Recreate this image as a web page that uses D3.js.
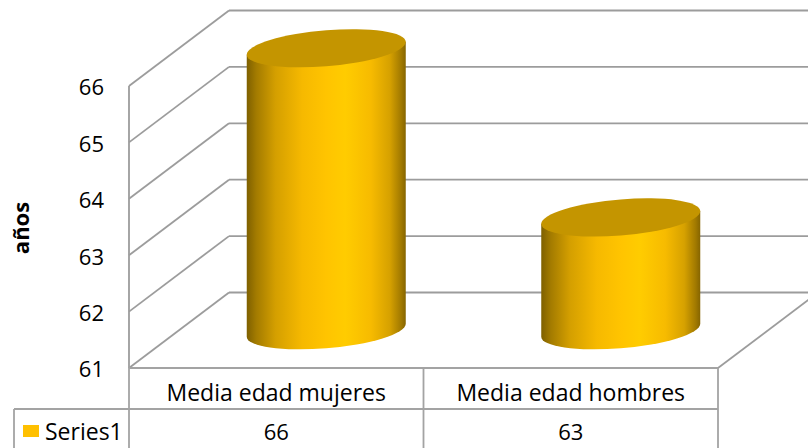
<!DOCTYPE html>
<html>
<head>
<meta charset="utf-8">
<script src="https://cdn.jsdelivr.net/npm/d3@7"></script>
<style>
  html, body { margin: 0; padding: 0; background: #fff; }
  svg { display: block; font-family: "Open Sans", "Noto Sans", sans-serif; }
</style>
</head>
<body>
<svg id="chart" width="808" height="448"></svg>
<script>
// Chart data
const categories = ["Media edad mujeres", "Media edad hombres"];
const values = [66, 63];
const seriesName = "Series1";
const yTicks = [61, 62, 63, 64, 65, 66];
const yTitle = "años";

const W = 808, H = 448;
const svg = d3.select("#chart");

// Front plane geometry and 3D depth offset
const frontLeft = 129, frontRight = 718;
const depthX = 100, depthY = -75.5;
const y = d3.scaleLinear().domain([61, 66]).range([368, 86]);
const x = d3.scaleBand().domain(categories).range([frontLeft, frontRight]);

const gridColor = "#9c9c9c";
const lineColor = "#a3a3a3";

// Back wall gridlines
const walls = svg.append("g").attr("fill", "none").attr("stroke", gridColor).attr("stroke-width", 1.8);
walls.selectAll("line.back").data(yTicks).join("line")
  .attr("class", "back")
  .attr("x1", frontLeft + depthX).attr("x2", frontRight + depthX + 20)
  .attr("y1", d => y(d) + depthY).attr("y2", d => y(d) + depthY);

// Side wall diagonals
walls.selectAll("line.side").data(yTicks).join("line")
  .attr("class", "side")
  .attr("x1", frontLeft).attr("y1", d => y(d))
  .attr("x2", frontLeft + depthX).attr("y2", d => y(d) + depthY);

// Side wall front edge
walls.append("line")
  .attr("x1", frontLeft).attr("x2", frontLeft)
  .attr("y1", y(d3.max(yTicks))).attr("y2", y(61));

// Floor right edge
walls.append("line")
  .attr("x1", frontRight).attr("y1", y(61))
  .attr("x2", frontRight + depthX).attr("y2", y(61) + depthY);

// Cylinder gradient
const defs = svg.append("defs");
const grad = defs.append("linearGradient").attr("id", "cyl").attr("x1", "0%").attr("x2", "100%");
[
  [0, "#7e6000"], [0.06, "#a37b00"], [0.18, "#d49f00"], [0.35, "#f6b900"],
  [0.5, "#ffc400"], [0.62, "#ffcc00"], [0.78, "#f7bb00"], [0.9, "#d6a100"],
  [0.97, "#a27a00"], [1, "#866500"]
].forEach(([o, c]) => grad.append("stop").attr("offset", o).attr("stop-color", c));

// Cylinders sit at mid depth
const rx = 79.5, ry = 18, skew = -4.6;
const midX = depthX / 2, midY = depthY / 2;
const bars = svg.append("g");
categories.forEach((cat, i) => {
  const cx = x(cat) + x.bandwidth() / 2 + midX;
  const yb = y(61) + midY;
  const yt = y(values[i]) + midY;
  const g = bars.append("g")
    .attr("transform", `translate(${cx},0) skewY(${skew})`);
  g.append("path")
    .attr("d", `M${-rx},${yt} L${-rx},${yb} A${rx},${ry} 0 0 0 ${rx},${yb} L${rx},${yt} Z`)
    .attr("fill", "url(#cyl)");
  g.append("ellipse")
    .attr("cx", 0).attr("cy", yt).attr("rx", rx).attr("ry", ry)
    .attr("fill", "#c49500");
});

// Y axis tick labels
const yAxis = svg.append("g")
  .attr("transform", `translate(${frontLeft},0)`)
  .call(d3.axisLeft(y).tickValues(yTicks).tickSize(0).tickPadding(25).tickFormat(d3.format("d")));
yAxis.select(".domain").remove();
yAxis.selectAll("text")
  .attr("font-family", "'Open Sans', 'Noto Sans', sans-serif")
  .attr("font-size", 22).attr("fill", "#000").attr("dy", "0.4em");

// Axis title
svg.append("text")
  .attr("transform", "translate(29,228) rotate(-90)")
  .attr("text-anchor", "middle")
  .attr("font-size", 22).attr("font-weight", "bold").attr("fill", "#000")
  .text(yTitle);

// Data table
const rowTop = y(61), rowMid = 409, rowBottom = H + 2, legendLeft = 14;
const table = svg.append("g").attr("stroke", lineColor).attr("stroke-width", 1.8);
table.append("line").attr("x1", frontLeft).attr("x2", frontRight).attr("y1", rowTop).attr("y2", rowTop);
table.append("line").attr("x1", legendLeft).attr("x2", frontRight).attr("y1", rowMid).attr("y2", rowMid);
table.append("line").attr("x1", legendLeft).attr("x2", legendLeft).attr("y1", rowMid).attr("y2", rowBottom);
table.selectAll("line.col").data(d3.range(categories.length + 1)).join("line")
  .attr("class", "col")
  .attr("x1", i => i === categories.length ? frontRight : x(categories[i]))
  .attr("x2", i => i === categories.length ? frontRight : x(categories[i]))
  .attr("y1", rowTop).attr("y2", rowBottom);

svg.append("g").selectAll("text.cat").data(categories).join("text")
  .attr("class", "cat")
  .attr("x", d => x(d) + x.bandwidth() / 2).attr("y", 401)
  .attr("text-anchor", "middle").attr("font-size", 23).attr("fill", "#000")
  .text(d => d);

svg.append("g").selectAll("text.val").data(values).join("text")
  .attr("class", "val")
  .attr("x", (d, i) => x(categories[i]) + x.bandwidth() / 2).attr("y", 440)
  .attr("text-anchor", "middle").attr("font-size", 22).attr("fill", "#000")
  .text(d => d);

// Legend key
svg.append("rect").attr("x", 23).attr("y", 425).attr("width", 16).attr("height", 12).attr("fill", "#ffc000");
svg.append("text").attr("x", 45).attr("y", 440).attr("font-size", 23).attr("fill", "#000").text(seriesName);
</script>
</body>
</html>
